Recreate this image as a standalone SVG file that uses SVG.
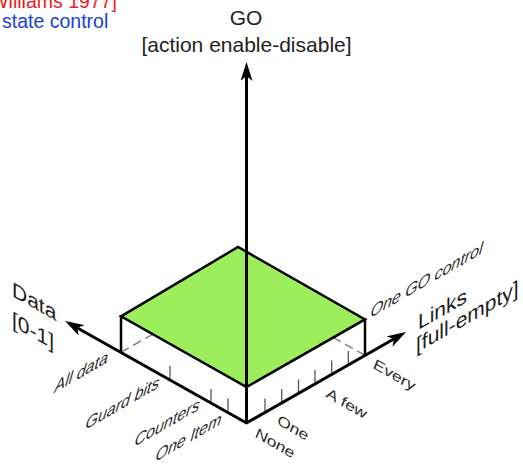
<svg xmlns="http://www.w3.org/2000/svg" width="523" height="466" viewBox="0 0 523 466">
<style>
text{font-family:"Liberation Sans",Arial,Helvetica,sans-serif;fill:#1e1e1e}
.ax{font-size:21px}
.tl{font-size:16px;font-style:italic;fill:#2a2a2a}
.axis{stroke:#000;stroke-width:3;fill:none}
.edge{stroke:#000;stroke-width:2.5;fill:none;stroke-linejoin:miter}
.tick{stroke:#555;stroke-width:1.3}
.hid{stroke:#777;stroke-width:1.3;stroke-dasharray:9 5;fill:none}
</style>
<defs>
<marker id="ah" viewBox="0 0 19 12" refX="14" refY="6" markerWidth="19" markerHeight="12" orient="auto" markerUnits="userSpaceOnUse">
<path d="M0,0 L19,6 L0,12 L5,6 Z" fill="#000"/>
</marker>
</defs>
<rect width="523" height="466" fill="#fff"/>

<g id="citation">
<text x="117" y="8" font-size="19.5" text-anchor="end" style="fill:#ee1c1c">Williams 1977]</text>
<text x="2" y="28" font-size="19.5" style="fill:#1a3fd2">state control</text>
</g>

<g id="box">
<line class="hid" x1="121" y1="352.3" x2="239.5" y2="284.7"/>
<line class="hid" x1="365" y1="355.4" x2="239.5" y2="284.7"/>
<g class="tick">
<line x1="170" y1="378.5" x2="170" y2="366"/>
<line x1="211" y1="401.5" x2="211" y2="389"/>
<line x1="228" y1="411" x2="228" y2="398.5"/>
<line x1="265" y1="411" x2="265" y2="398.5"/>
<line x1="281.7" y1="401.5" x2="281.7" y2="389"/>
<line x1="298.5" y1="392" x2="298.5" y2="379.5"/>
<line x1="315" y1="382.5" x2="315" y2="370"/>
<line x1="331.7" y1="373" x2="331.7" y2="360.5"/>
<line x1="348.3" y1="363.5" x2="348.3" y2="351"/>
</g>
<polygon class="edge" points="121,316.3 238,247 365,319.4 246.5,387" style="fill:#9cee5c"/>
<line class="edge" x1="121" y1="315" x2="121" y2="353"/>
<line class="edge" x1="365" y1="318" x2="365" y2="356"/>
</g>

<g id="connectors">
<line class="axis" x1="246.5" y1="424" x2="246.5" y2="67" marker-end="url(#ah)"/>
<line class="axis" x1="247" y1="423.3" x2="69.4" y2="323.5" marker-end="url(#ah)"/>
<line class="axis" x1="246" y1="423.3" x2="401.7" y2="334.5" marker-end="url(#ah)"/>
</g>

<g id="go-label">
<text class="ax" x="246" y="25" text-anchor="middle">GO</text>
<text class="ax" x="246.5" y="52" text-anchor="middle">[action enable-disable]</text>
</g>

<g id="data-label">
<text class="ax" transform="translate(12,296) skewY(29.5)">Data</text>
<text class="ax" transform="translate(12,326) skewY(29.5)">[0-1]</text>
</g>

<g id="links-label">
<text class="ax" transform="translate(418,330) skewY(-29.7)">Links</text>
<text class="ax" transform="translate(416,353) skewY(-29.7)">[full-empty]</text>
</g>

<g id="data-scale">
<text class="tl" transform="translate(54,393) skewY(-30) skewX(-8)">All data</text>
<text class="tl" transform="translate(85,430) skewY(-30) skewX(-8)">Guard bits</text>
<text class="tl" transform="translate(134,447) skewY(-30) skewX(-8)">Counters</text>
<text class="tl" transform="translate(155,462) skewY(-30) skewX(-8)">One Item</text>
</g>

<g id="links-scale">
<text class="tl" transform="translate(255,437) skewY(30) skewX(-8)">None</text>
<text class="tl" transform="translate(277,424) skewY(30) skewX(-8)">One</text>
<text class="tl" transform="translate(326,397) skewY(30) skewX(-8)">A few</text>
<text class="tl" transform="translate(373,368) skewY(30) skewX(-8)">Every</text>
<text class="tl" transform="translate(370,318) skewY(-30) skewX(-8)">One GO control</text>
</g>
</svg>
